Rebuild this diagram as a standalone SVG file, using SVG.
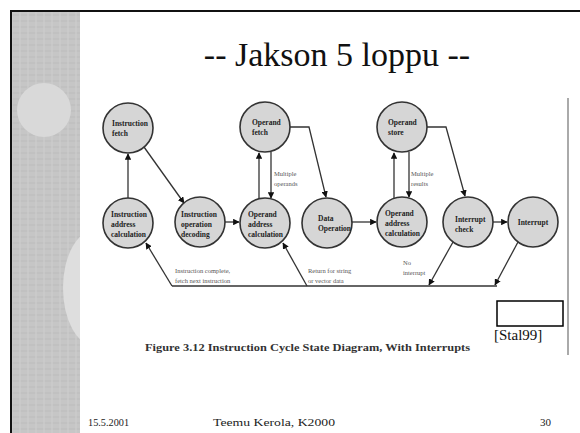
<svg xmlns="http://www.w3.org/2000/svg" width="580" height="433" viewBox="0 0 580 433">
<defs>
<pattern id="tex" width="24" height="24" patternUnits="userSpaceOnUse">
<rect width="24" height="24" fill="#c6c6c6"/>
<path d="M0,3 H24 M0,9 H24 M0,15 H24 M0,21 H24" stroke="#bdbdbd" stroke-width="1"/>
<path d="M4,0 V24 M12,0 V24 M20,0 V24" stroke="#cfcfcf" stroke-width="1"/>
</pattern>
<clipPath id="strip"><rect x="12" y="12" width="68" height="421"/></clipPath>
<marker id="ah" viewBox="0 0 10 10" refX="9" refY="5" markerWidth="5" markerHeight="5" orient="auto">
<path d="M0,0 L10,5 L0,10 z" fill="#111"/>
</marker>
<style>
.node circle{fill:#d6d6d6;stroke:#333;stroke-width:1.6}
.nt{font-family:"Liberation Serif",serif;font-size:7.5px;font-weight:bold;fill:#222}
.lbl{font-family:"Liberation Serif",serif;font-size:6.5px;fill:#555}
.con path{fill:none;stroke:#333;stroke-width:1.3;marker-end:url(#ah)}
.con path.plain{marker-end:none}
.ft{font-family:"Liberation Serif",serif;font-size:11px;fill:#222}
</style>
</defs>
<rect width="580" height="433" fill="#fff"/>
<!-- left strip -->
<g clip-path="url(#strip)">
<rect x="12" y="12" width="68" height="421" fill="url(#tex)"/>
<circle cx="44" cy="110" r="27" fill="#d9d9d9"/>
<ellipse cx="95" cy="288" rx="32" ry="58" fill="#dedede"/>
</g>
<path d="M10,11 H580" stroke="#111" stroke-width="2"/>
<path d="M11,11 V433" stroke="#111" stroke-width="2"/>
<!-- title -->
<text x="337" y="66" text-anchor="middle" font-family="Liberation Serif,serif" font-size="34" fill="#111">-- Jakson 5 loppu --</text>
<!-- figure edge -->
<path d="M568,98 V355" stroke="#aaa" stroke-width="2"/>
<!-- connectors -->
<g class="con">
<path d="M128,198 L128,154"/>
<path d="M144,147 L184,203"/>
<path d="M225,222 L239,222"/>
<path d="M259,199 L259,153"/>
<path d="M271,152 L271,198"/>
<path d="M290,127 L309,127 L326,197"/>
<path d="M352,222 L376,222"/>
<path d="M394,198 L394,153"/>
<path d="M409,152 L409,197"/>
<path d="M427,127 L446,127 L465,196"/>
<path d="M493,222 L507,222"/>
<path d="M453,242 L429,285"/>
<path d="M518,242 L495,285"/>
<path class="plain" d="M497,286 L172,286"/>
<path d="M172,286 L146,243"/>
<path d="M307,286 L283,243"/>
</g>
<text class="lbl" x="274" y="176">Multiple</text>
<text class="lbl" x="274" y="186">operands</text>
<text class="lbl" x="411" y="176">Multiple</text>
<text class="lbl" x="411" y="186">results</text>
<text class="lbl" x="175" y="273">Instruction complete,</text>
<text class="lbl" x="175" y="283">fetch next instruction</text>
<text class="lbl" x="308" y="273">Return for string</text>
<text class="lbl" x="308" y="283">or vector data</text>
<text class="lbl" x="403" y="265">No</text>
<text class="lbl" x="403" y="275">interrupt</text>
<!-- nodes -->
<g id="n-ifetch" class="node"><circle cx="128" cy="128" r="25"/><text class="nt" x="112" y="126">Instruction</text><text class="nt" x="112" y="136">fetch</text></g>
<g id="n-ofetch" class="node"><circle cx="265" cy="127" r="25"/><text class="nt" x="252" y="125">Operand</text><text class="nt" x="252" y="135">fetch</text></g>
<g id="n-ostore" class="node"><circle cx="402" cy="127" r="25"/><text class="nt" x="388" y="125">Operand</text><text class="nt" x="388" y="135">store</text></g>
<g id="n-iac" class="node"><circle cx="128" cy="223" r="25"/><text class="nt" x="111" y="217">Instruction</text><text class="nt" x="111" y="227">address</text><text class="nt" x="111" y="237">calculation</text></g>
<g id="n-iod" class="node"><circle cx="200" cy="222" r="25"/><text class="nt" x="181" y="217">Instruction</text><text class="nt" x="181" y="227">operation</text><text class="nt" x="181" y="237">decoding</text></g>
<g id="n-oac1" class="node"><circle cx="265" cy="223" r="25"/><text class="nt" x="248" y="217">Operand</text><text class="nt" x="248" y="227">address</text><text class="nt" x="248" y="237">calculation</text></g>
<g id="n-data" class="node"><circle cx="327" cy="223" r="25"/><text class="nt" x="318" y="221">Data</text><text class="nt" x="318" y="231">Operation</text></g>
<g id="n-oac2" class="node"><circle cx="402" cy="222" r="25"/><text class="nt" x="385" y="216">Operand</text><text class="nt" x="385" y="226">address</text><text class="nt" x="385" y="236">calculation</text></g>
<g id="n-icheck" class="node"><circle cx="468" cy="222" r="25"/><text class="nt" x="455" y="222">Interrupt</text><text class="nt" x="455" y="232">check</text></g>
<g id="n-int" class="node"><circle cx="533" cy="222" r="25"/><text class="nt" x="533" y="225" text-anchor="middle">Interrupt</text></g>
<!-- caption -->
<text x="145" y="351" font-family="Liberation Serif,serif" font-size="10.5" font-weight="bold" fill="#333" textLength="325" lengthAdjust="spacingAndGlyphs">Figure 3.12   Instruction Cycle State Diagram, With Interrupts</text>
<rect x="497" y="301" width="66" height="25" fill="#fff" stroke="#000" stroke-width="1.5"/>
<text x="494" y="340" font-family="Liberation Serif,serif" font-size="15" fill="#111">[Stal99]</text>
<!-- footer -->
<text class="ft" x="88" y="426" textLength="41" lengthAdjust="spacingAndGlyphs">15.5.2001</text>
<text class="ft" x="213" y="426" textLength="122" lengthAdjust="spacingAndGlyphs">Teemu Kerola, K2000</text>
<text class="ft" x="540" y="426">30</text>
</svg>
